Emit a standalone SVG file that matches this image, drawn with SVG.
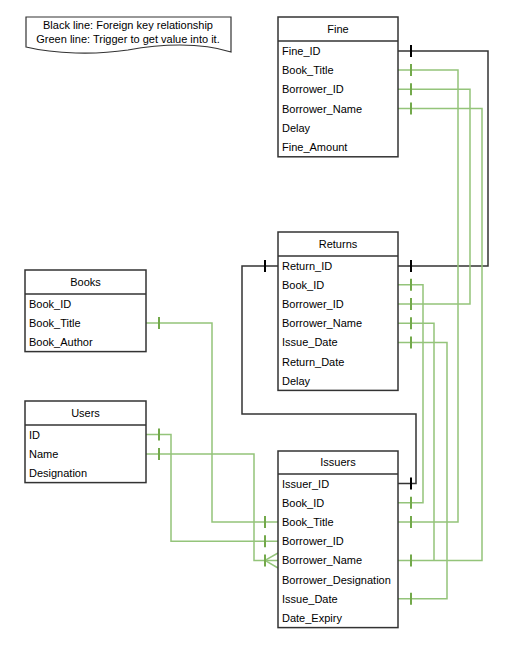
<svg xmlns="http://www.w3.org/2000/svg" width="507" height="658" viewBox="0 0 507 658">
<style>
text{font-family:"Liberation Sans",Arial,sans-serif;font-size:11px;fill:#000}
.hd{text-anchor:middle}
.box{fill:#fff;stroke:#333;stroke-width:1.5}
.sep{stroke:#333;stroke-width:1.5}
.bk{fill:none;stroke:#333;stroke-width:1.5}
.gr{fill:none;stroke:#94c47a;stroke-width:1.5}
.tb{stroke:#000;stroke-width:2}
.tg{stroke:#73a94b;stroke-width:2}
</style>
<rect width="507" height="658" fill="#fff"/>
<g id="note">
<path d="M26,17 H231 V52 C200,42 160,44 128,50 C95,55 55,54 26,47 Z" fill="#fff" stroke="#333" stroke-width="1.2"/>
<text class="hd" x="128" y="29">Black line: Foreign key relationship</text>
<text class="hd" x="128" y="43">Green line: Trigger to get value into it.</text>
</g>
<g id="connectors">
<path class="bk" d="M398,51 H488 V266 H398"/>
<path class="bk" d="M278,266 H242 V414 H416 V483.6 H398"/>
<path class="gr" d="M398,70 H458 V522 H398"/>
<path class="gr" d="M398,89.3 H470 V304 H398"/>
<path class="gr" d="M398,108.6 H482 V560.4 H398"/>
<path class="gr" d="M398,284.8 H423 V502.8 H398"/>
<path class="gr" d="M398,323.2 H434 V560.4"/>
<path class="gr" d="M398,342.4 H447 V598.8 H398"/>
<path class="gr" d="M146,323 H212 V522 H278"/>
<path class="gr" d="M146,434.6 H171 V541.2 H278"/>
<path class="gr" d="M146,454 H254 V560.4 H278"/>
<path class="gr" d="M265,560.4 L278,553 M265,560.4 L278,568"/>
<g class="tb">
<line x1="411" y1="45" x2="411" y2="57"/>
<line x1="411" y1="260" x2="411" y2="272"/>
<line x1="265" y1="260" x2="265" y2="272"/>
<line x1="411" y1="477.6" x2="411" y2="489.6"/>
</g>
<g class="tg">
<line x1="411" y1="64" x2="411" y2="76"/>
<line x1="411" y1="83.3" x2="411" y2="95.3"/>
<line x1="411" y1="102.6" x2="411" y2="114.6"/>
<line x1="411" y1="278.8" x2="411" y2="290.8"/>
<line x1="411" y1="298" x2="411" y2="310"/>
<line x1="411" y1="317.2" x2="411" y2="329.2"/>
<line x1="411" y1="336.4" x2="411" y2="348.4"/>
<line x1="411" y1="496.8" x2="411" y2="508.8"/>
<line x1="411" y1="516" x2="411" y2="528"/>
<line x1="411" y1="554.4" x2="411" y2="566.4"/>
<line x1="411" y1="592.8" x2="411" y2="604.8"/>
<line x1="159" y1="317" x2="159" y2="329"/>
<line x1="159" y1="428.6" x2="159" y2="440.6"/>
<line x1="159" y1="448" x2="159" y2="460"/>
<line x1="265" y1="516" x2="265" y2="528"/>
<line x1="265" y1="535.2" x2="265" y2="547.2"/>
<line x1="265" y1="554.4" x2="265" y2="566.4"/>
</g>
</g>
<g id="fine">
<rect class="box" x="278" y="17" width="120" height="139.8"/>
<line class="sep" x1="278" y1="41" x2="398" y2="41"/>
<text class="hd" x="338" y="33">Fine</text>
<text x="282" y="54.6">Fine_ID</text>
<text x="282" y="73.9">Book_Title</text>
<text x="282" y="93.2">Borrower_ID</text>
<text x="282" y="112.5">Borrower_Name</text>
<text x="282" y="131.8">Delay</text>
<text x="282" y="151.1">Fine_Amount</text>
</g>
<g id="returns">
<rect class="box" x="278" y="232" width="120" height="158.4"/>
<line class="sep" x1="278" y1="256" x2="398" y2="256"/>
<text class="hd" x="338" y="248">Returns</text>
<text x="282" y="269.6">Return_ID</text>
<text x="282" y="288.8">Book_ID</text>
<text x="282" y="308">Borrower_ID</text>
<text x="282" y="327.2">Borrower_Name</text>
<text x="282" y="346.4">Issue_Date</text>
<text x="282" y="365.6">Return_Date</text>
<text x="282" y="384.8">Delay</text>
</g>
<g id="books">
<rect class="box" x="25" y="270" width="121" height="81.6"/>
<line class="sep" x1="25" y1="294" x2="146" y2="294"/>
<text class="hd" x="85.5" y="286">Books</text>
<text x="29" y="307.6">Book_ID</text>
<text x="29" y="326.8">Book_Title</text>
<text x="29" y="346">Book_Author</text>
</g>
<g id="users">
<rect class="box" x="25" y="401" width="121" height="81.6"/>
<line class="sep" x1="25" y1="425" x2="146" y2="425"/>
<text class="hd" x="85.5" y="417">Users</text>
<text x="29" y="438.6">ID</text>
<text x="29" y="457.8">Name</text>
<text x="29" y="477">Designation</text>
</g>
<g id="issuers">
<rect class="box" x="278" y="451" width="120" height="176.6"/>
<line class="sep" x1="278" y1="474" x2="398" y2="474"/>
<text class="hd" x="338" y="466">Issuers</text>
<text x="282" y="487.6">Issuer_ID</text>
<text x="282" y="506.8">Book_ID</text>
<text x="282" y="526">Book_Title</text>
<text x="282" y="545.2">Borrower_ID</text>
<text x="282" y="564.4">Borrower_Name</text>
<text x="282" y="583.6">Borrower_Designation</text>
<text x="282" y="602.8">Issue_Date</text>
<text x="282" y="622">Date_Expiry</text>
</g>
</svg>
